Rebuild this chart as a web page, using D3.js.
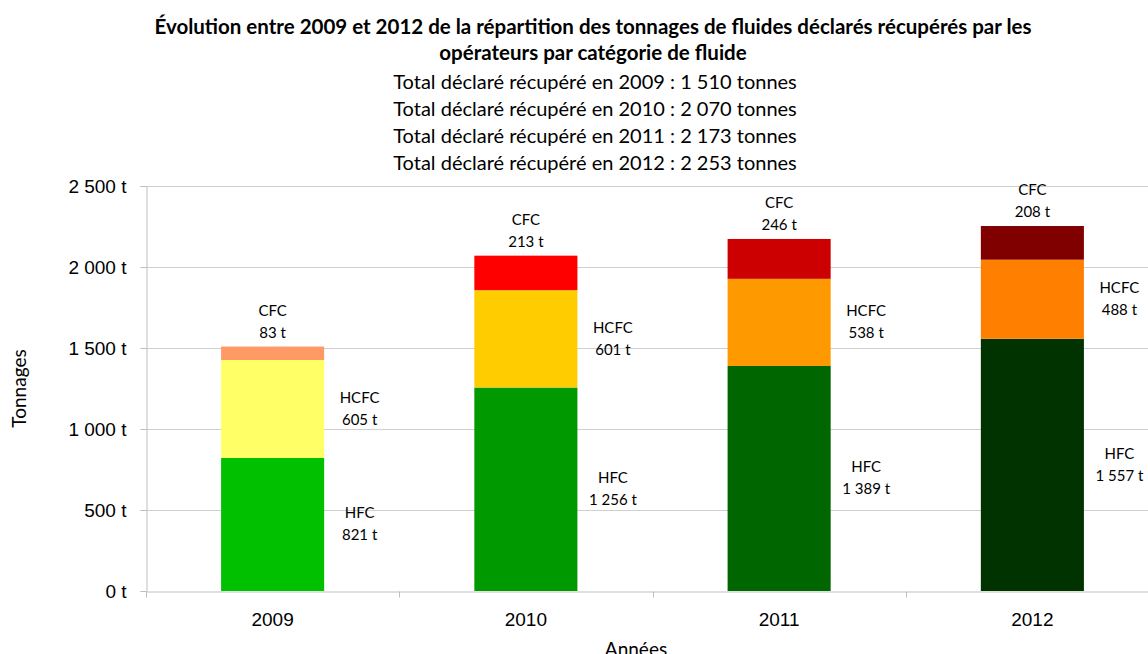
<!DOCTYPE html>
<html>
<head>
<meta charset="utf-8">
<script src="https://cdn.jsdelivr.net/npm/d3@7"></script>
<style>
  body { margin: 0; background: #fff; }
  svg { font-family: Lato, "Open Sans", sans-serif; }
</style>
</head>
<body>
<div id="chart"></div>
<script>
  var years = ["2009", "2010", "2011", "2012"];
  var hfc = [821, 1256, 1389, 1557];
  var hcfc = [605, 601, 538, 488];
  var cfc = [83, 213, 246, 208];
  var totals = [1510, 2070, 2173, 2253];
  var yTicks = [0, 500, 1000, 1500, 2000, 2500];

  var hfcColors = ["#00C000", "#009900", "#006600", "#003300"];
  var hcfcColors = ["#FFFF66", "#FFCC00", "#FF9900", "#FF8000"];
  var cfcColors = ["#FF9966", "#FF0000", "#CC0000", "#800000"];

  var width = 1148;
  var height = 654;

  var fr = d3.formatLocale({ decimal: ",", thousands: "\u00a0", grouping: [3], currency: ["", " €"] });
  var num = fr.format(",d");

  var svg = d3.select("#chart")
    .append("svg")
    .attr("width", width)
    .attr("height", height);

  // titre
  var titleLines = [
    "Évolution entre 2009 et 2012 de la répartition des tonnages de fluides déclarés récupérés par les",
    "opérateurs par catégorie de fluide"
  ];
  svg.selectAll(".title")
    .data(titleLines)
    .enter()
    .append("text")
    .attr("class", "title")
    .attr("x", 593)
    .attr("y", function (d, i) { return 34 + i * 26; })
    .attr("text-anchor", "middle")
    .style("font-weight", "bold")
    .style("font-size", "20.5px")
    .text(function (d) { return d; });

  svg.selectAll(".subtitle")
    .data(totals)
    .enter()
    .append("text")
    .attr("class", "subtitle")
    .attr("x", 595)
    .attr("y", function (d, i) { return 89 + i * 27; })
    .attr("text-anchor", "middle")
    .style("font-size", "20px")
    .text(function (d, i) { return "Total déclaré récupéré en " + years[i] + " : " + num(d) + " tonnes"; });

  var mLeft = 146, mRight = 1159, mTop = 186, mBottom = 591;

  var x = d3.scaleBand().domain(years).range([mLeft, mRight]);
  var barW = x.bandwidth() * 0.407;
  var y = d3.scaleLinear().domain([0, 2500]).range([mBottom, mTop]);

  // grille
  svg.selectAll(".grid")
    .data(yTicks.slice(1))
    .enter()
    .append("line")
    .attr("x1", mLeft)
    .attr("x2", width)
    .attr("y1", function (d) { return Math.round(y(d)) + 0.5; })
    .attr("y2", function (d) { return Math.round(y(d)) + 0.5; })
    .attr("stroke", "#D0D0D0")
    .attr("stroke-width", 1);

  var yAxis = d3.axisLeft(y)
    .tickValues(yTicks)
    .tickSize(6)
    .tickPadding(14)
    .tickFormat(function (d) { return num(d) + " t"; });

  var gy = svg.append("g")
    .attr("transform", "translate(" + (mLeft + 0.5) + ",0)")
    .call(yAxis);
  gy.select(".domain").attr("stroke", "#BFBFBF");
  gy.selectAll(".tick line").attr("stroke", "#BFBFBF");
  gy.selectAll("text").style("font-size", "19px").style("fill", "#000");

  var xAxis = d3.axisBottom(x).tickSize(0).tickPadding(21);
  var gx = svg.append("g")
    .attr("transform", "translate(0," + (mBottom + 0.5) + ")")
    .call(xAxis);
  gx.select(".domain").attr("stroke", "#BFBFBF");
  gx.selectAll("text").style("font-size", "19px").style("fill", "#000");

  // graduations entre les catégories
  gx.selectAll(".sep")
    .data(years)
    .enter()
    .append("line")
    .attr("x1", function (d) { return Math.round(x(d)) + 0.5; })
    .attr("x2", function (d) { return Math.round(x(d)) + 0.5; })
    .attr("y1", 0)
    .attr("y2", 6)
    .attr("stroke", "#BFBFBF");

  svg.append("text")
    .attr("transform", "translate(26," + ((mTop + mBottom) / 2) + ") rotate(-90)")
    .attr("text-anchor", "middle")
    .style("font-size", "19px")
    .text("Tonnages");

  svg.append("text")
    .attr("x", 636)
    .attr("y", 656)
    .attr("text-anchor", "middle")
    .style("font-size", "19px")
    .text("Années");

  // barres empilées
  var rows = years.map(function (yr, i) {
    return {
      year: yr,
      segs: [
        { name: "HFC", v0: 0, v1: hfc[i], color: hfcColors[i], value: hfc[i] },
        { name: "HCFC", v0: hfc[i], v1: hfc[i] + hcfc[i], color: hcfcColors[i], value: hcfc[i] },
        { name: "CFC", v0: hfc[i] + hcfc[i], v1: hfc[i] + hcfc[i] + cfc[i], color: cfcColors[i], value: cfc[i] }
      ]
    };
  });

  var groups = svg.selectAll(".bar")
    .data(rows)
    .enter()
    .append("g")
    .attr("class", "bar");

  groups.selectAll("rect")
    .data(function (d) { return d.segs.map(function (s) { s.year = d.year; return s; }); })
    .enter()
    .append("rect")
    .attr("x", function (d) { return x(d.year) + (x.bandwidth() - barW) / 2; })
    .attr("width", barW)
    .attr("y", function (d) { return y(d.v1); })
    .attr("height", function (d) { return y(d.v0) - y(d.v1); })
    .style("fill", function (d) { return d.color; });

  // étiquettes
  groups.selectAll(".lbl")
    .data(function (d) { return d.segs; })
    .enter()
    .append("text")
    .attr("class", "lbl")
    .attr("text-anchor", "middle")
    .style("font-size", "15px")
    .each(function (d) {
      var cx = x(d.year) + x.bandwidth() / 2;
      var ty;
      if (d.name === "CFC") {
        ty = y(d.v1) - 36;
      } else {
        cx += 87;
        ty = (y(d.v0) + y(d.v1)) / 2 - 11;
      }
      var t = d3.select(this);
      t.append("tspan").attr("x", cx).attr("y", ty + 5).text(d.name);
      t.append("tspan").attr("x", cx).attr("y", ty + 27).text(num(d.value) + " t");
    });
</script>
</body>
</html>
